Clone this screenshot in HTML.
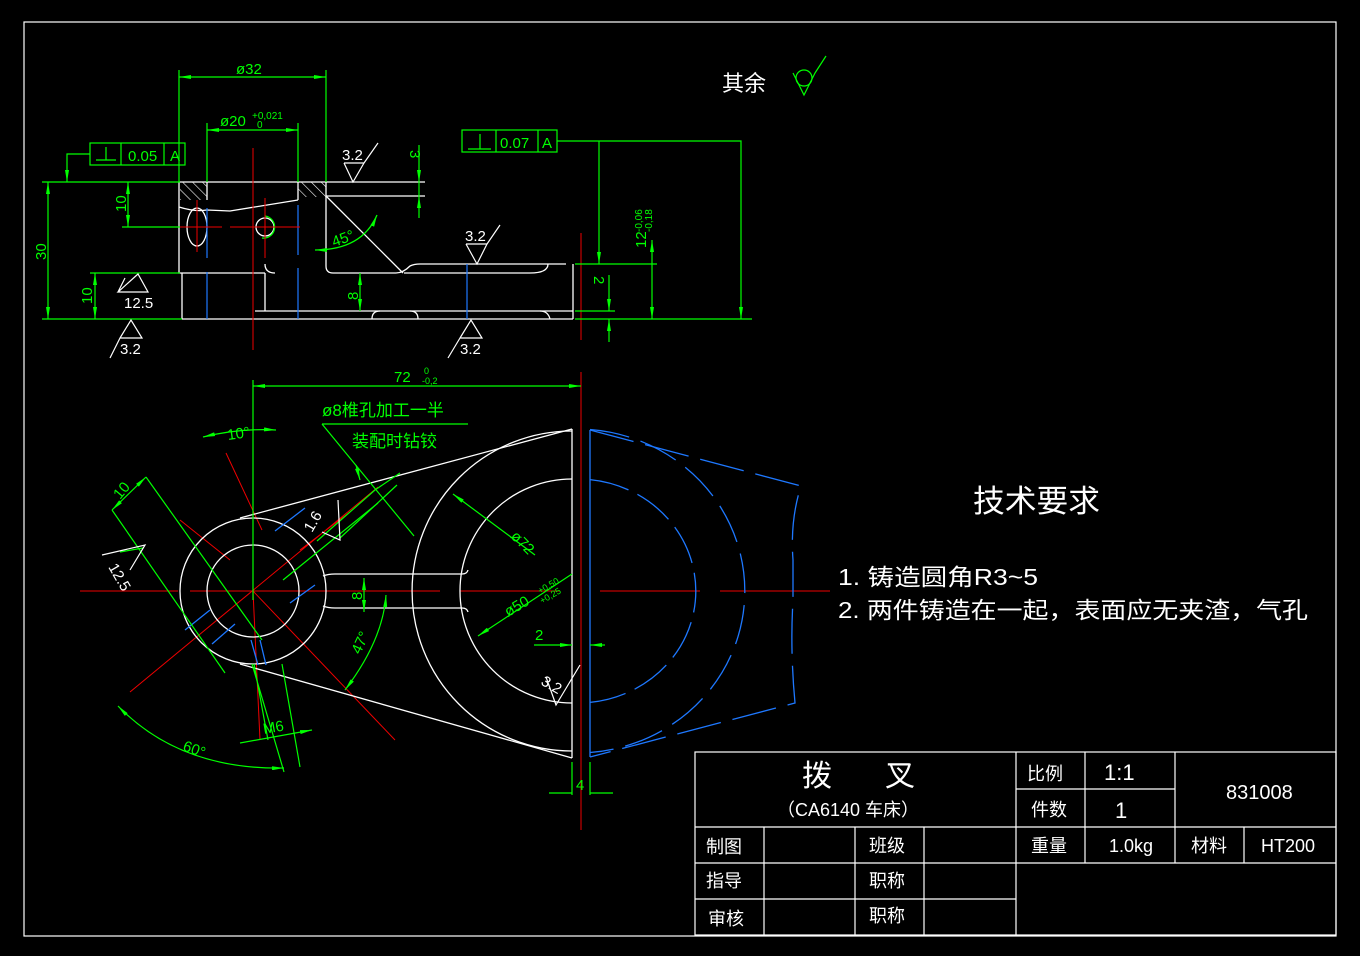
<!DOCTYPE html>
<html><head><meta charset="utf-8"><style>
html,body{margin:0;padding:0;background:#000;}
svg{display:block;}
text{font-family:"Liberation Sans","Noto Sans CJK SC",sans-serif;}
</style></head><body>
<svg width="1360" height="956" viewBox="0 0 1360 956" xmlns="http://www.w3.org/2000/svg">
<defs>
<marker id="a" viewBox="0 0 12 4" refX="12" refY="2" markerWidth="12" markerHeight="4" orient="auto-start-reverse" markerUnits="userSpaceOnUse"><path d="M0,0L12,2L0,4z" fill="#0f0"/></marker>
<pattern id="h" width="7" height="7" patternUnits="userSpaceOnUse" patternTransform="rotate(-45)"><line x1="0" y1="0" x2="0" y2="7" stroke="#fff" stroke-width="1.2"/></pattern>
</defs>
<rect width="1360" height="956" fill="#000"/>
<rect x="24" y="22" width="1312" height="914" fill="none" stroke="#fff" stroke-width="1.2"/>

<!-- ===== TOP VIEW ===== -->
<g stroke="#fff" stroke-width="1.3" fill="none">
<rect x="180" y="182" width="27" height="18" fill="url(#h)" stroke="none"/>
<rect x="298" y="182" width="28" height="15" fill="url(#h)" stroke="none"/>
<path d="M179,182H425M326,196H425M179,182V273H265M179,207Q195,212 207,210L230,211L298,200"/>
<path d="M207,182V200M298,182V200M326,182V266Q326,273 333,273H396Q403,273 410,266Q414,264 420,264H566M265,264Q265,273 275,273"/>
<path d="M326,196L403,273M573,264V319M182,273V319M265,273V311M255,311H573M182,319H573"/>
<path d="M372,319Q372,311 380,311M410,311Q418,311 418,319M540,311Q548,311 550,319M548,264Q548,273 530,273H420M420,273Q410,273 404,273"/>
<ellipse cx="197" cy="227" rx="10" ry="19"/>
<circle cx="265" cy="227" r="9"/>
</g>
<path d="M262,238A11,11 0 1,0 265,216" stroke="#0f0" fill="none" stroke-width="1.3"/>
<g stroke="#1e78ff" stroke-width="1.2">
<path d="M207,208V258M207,272V319M298,205V255M298,268V319M467,264V319"/>
</g>
<g stroke="#e00" stroke-width="1">
<path d="M253,148V350M170,227H222M230,227H300M240,227H290M197,200V252M265,198V258M581,233V340"/>
</g>
<!-- top view dims -->
<g stroke="#0f0" stroke-width="1.2" fill="none">
<path d="M179,70V182M326,70V182M207,123V182M298,123V182"/>
<path d="M179,77H326" marker-start="url(#a)" marker-end="url(#a)"/>
<path d="M207,130H298" marker-start="url(#a)" marker-end="url(#a)"/>
<rect x="90" y="143" width="95" height="22"/><path d="M121,143V165M164,143V165M96,160H116M106,147V160"/>
<path d="M90,154H67V182" marker-end="url(#a)"/>
<path d="M42,182H180M42,319H182M122,227H180M90,273H180"/>
<path d="M48,182V319" marker-start="url(#a)" marker-end="url(#a)"/>
<path d="M128,182V227" marker-start="url(#a)" marker-end="url(#a)"/>
<path d="M95,273V319" marker-start="url(#a)" marker-end="url(#a)"/>
<path d="M360,273V311" marker-start="url(#a)" marker-end="url(#a)"/>
<path d="M419,145V182" marker-end="url(#a)"/><path d="M419,218V196" marker-end="url(#a)"/><path d="M419,182V196"/>
<rect x="462" y="130" width="95" height="22"/><path d="M496,130V152M538,130V152M468,149H491M480,134V149"/>
<path d="M557,141H741V319" marker-end="url(#a)"/>
<path d="M599,141V264" marker-end="url(#a)"/>
<path d="M575,264H657M575,319H752M575,311H615"/>
<path d="M652,240V319" marker-start="url(#a)" marker-end="url(#a)"/>
<path d="M609,275V311" marker-end="url(#a)"/><path d="M609,342V319" marker-end="url(#a)"/>
</g>
<path d="M315,250Q362,250 377,215" stroke="#0f0" fill="none" stroke-width="1.3" marker-start="url(#a)" marker-end="url(#a)"/>
<g fill="#0f0" font-size="15">
<text x="236" y="74">ø32</text>
<text x="220" y="126">ø20</text><text x="252" y="119" font-size="10">+0,021</text><text x="257" y="128" font-size="10">0</text>
<text x="128" y="161">0.05</text><text x="170" y="161">A</text>
<text x="500" y="148">0.07</text><text x="542" y="148">A</text>
<text x="334" y="247" transform="rotate(-20 334 247)">45°</text>
<text transform="translate(46,260) rotate(-90)">30</text>
<text transform="translate(126,212) rotate(-90)">10</text>
<text transform="translate(92,304) rotate(-90)">10</text>
<text transform="translate(358,300) rotate(-90)">8</text>
<text transform="translate(410,150) rotate(90)">3</text>
<text transform="translate(594,276) rotate(90)">2</text>
<text transform="translate(646,248) rotate(-90)">12</text>
<text transform="translate(642,232) rotate(-90)" font-size="10">-0,06</text>
<text transform="translate(652,232) rotate(-90)" font-size="10">-0,18</text>
</g>
<!-- roughness symbols -->
<g stroke="#fff" stroke-width="1.2" fill="none">
<path d="M344,163H364L353,182L344,163M364,163L378,143"/>
<path d="M466,244H487L477,264L466,244M487,244L500,225"/>
<path d="M130,292H118L138,274L148,292H130M118,292L125,278"/>
<path d="M120,338H142L131,320L120,338M120,338L110,358"/>
<path d="M460,338H482L471,320L460,338M460,338L448,358"/>
<path d="M793,73L804,95L815,73M815,73L826,56M793,73" stroke="#0f0"/>
<circle cx="804" cy="78" r="8" stroke="#0f0"/>
</g>
<g fill="#fff" font-size="15">
<text x="342" y="160">3.2</text><text x="465" y="241">3.2</text>
<text x="124" y="308">12.5</text><text x="120" y="354">3.2</text><text x="460" y="354">3.2</text>
<text x="722" y="91" font-size="22">其余</text>
</g>

<!-- ===== FRONT VIEW ===== -->
<g stroke="#e00" stroke-width="1">
<path d="M80,591H178M190,591H440M460,591H560M600,591H700M720,591H830"/>
<path d="M581,372V830"/>
<path d="M378,487L130,692M226,453L262,530M253,591L395,740M180,520L230,560M253,591L260,740M350,512L300,550"/>
</g>
<g stroke="#fff" stroke-width="1.3" fill="none">
<circle cx="253" cy="591" r="73"/>
<circle cx="253" cy="591" r="46"/>
<path d="M240,518L572,429M240,664L572,758"/>
<path d="M572,431A160,160 0 0,0 572,751"/>
<path d="M572,479A112,112 0 0,0 572,703"/>
<path d="M572,429V758"/>
<path d="M323,576Q328,574 335,574H462Q467,574 468,570M323,606Q328,608 335,608H462Q467,608 468,612"/>
</g>
<g stroke="#1e78ff" stroke-width="1.3" fill="none">
<path d="M590,430V757"/>
<path d="M590,479.6A118,112 0 0,1 590,702.4" stroke-dasharray="40,10"/>
<path d="M590,429.5A168,162 0 0,1 590,752.5" stroke-dasharray="40,12"/>
<path d="M590,430L801,486Q790,520 793,560V600Q790,650 795,703L590,757" stroke-dasharray="45,12"/>
<path d="M275,531L305,508M185,630L210,610M212,644L235,624M290,603L315,585M251,640L258,665M260,640L266,665"/>
</g>
<!-- front dims -->
<g stroke="#0f0" stroke-width="1.2" fill="none">
<path d="M253,380V600"/>
<path d="M253,386H581" marker-start="url(#a)" marker-end="url(#a)"/>
<path d="M322,424H468M322,424L414,536" />
<path d="M356,465L360,480" marker-end="url(#a)"/>
<path d="M203,437Q240,428 276,430" marker-start="url(#a)" marker-end="url(#a)"/>
<path d="M112,510L225,673M146,477L262,640"/>
<path d="M112,510L146,477" marker-start="url(#a)" marker-end="url(#a)"/>
<path d="M317,541L375,490M340,538L397,485"/>
<path d="M283,580L378,503M400,473L375,490"/>
<path d="M453,494L535,555" marker-start="url(#a)"/>
<path d="M478,636L572,574" marker-start="url(#a)"/>
<path d="M364,578V612" marker-start="url(#a)" marker-end="url(#a)"/>
<path d="M386,595Q383,640 345,690" marker-start="url(#a)" marker-end="url(#a)"/>
<path d="M534,645H572" marker-end="url(#a)"/><path d="M605,645H590" marker-end="url(#a)"/>
<path d="M572,762V795M590,762V795M549,793H572M590,793H613"/>
<path d="M118,706Q180,770 284,768" marker-start="url(#a)" marker-end="url(#a)"/>
<path d="M254,664L268,740M282,664L300,767M252,664L284,772"/>
<path d="M240,743L312,730" marker-end="url(#a)"/>
<path d="M120,552L143,548"/>
</g>
<g stroke="#fff" stroke-width="1.2" fill="none">
<path d="M322,532L340,540L338,500"/>
<path d="M546,677L556,705L580,665"/>
<path d="M102,555L145,545L130,570"/>
</g>
<g fill="#0f0" font-size="15">
<text x="394" y="382">72</text><text x="424" y="374" font-size="9">0</text><text x="422" y="384" font-size="9">-0,2</text>
<text x="322" y="416" font-size="17">ø8椎孔加工一半</text>
<text x="352" y="447" font-size="17">装配时钻铰</text>
<text x="228" y="440" transform="rotate(-8 228 440)">10°</text>
<text x="120" y="500" transform="rotate(-50 120 500)">10</text>
<text x="510" y="537" transform="rotate(45 510 537)">ø72</text>
<text x="508" y="617" transform="rotate(-30 508 617)">ø50</text>
<text x="540" y="594" font-size="9" transform="rotate(-30 540 594)">+0,50</text>
<text x="542" y="604" font-size="9" transform="rotate(-30 542 604)">+0,25</text>
<text transform="translate(362,600) rotate(-90)">8</text>
<text x="360" y="655" transform="rotate(-65 360 655)">47°</text>
<text x="535" y="640">2</text>
<text x="576" y="790">4</text>
<text x="182" y="750" transform="rotate(20 182 750)">60°</text>
<text x="264" y="734" transform="rotate(-10 264 734)">M6</text>
</g>
<g fill="#fff" font-size="15">
<text x="312" y="533" transform="rotate(-60 312 533)">1.6</text>
<text x="540" y="684" transform="rotate(30 540 684)">3.2</text>
<text x="108" y="567" transform="rotate(60 108 567)">12.5</text>
</g>

<!-- technical requirements -->
<g fill="#fff">
<text x="973" y="512" font-size="31" textLength="127" lengthAdjust="spacingAndGlyphs">技术要求</text>
<text x="838" y="585" font-size="23" textLength="200" lengthAdjust="spacingAndGlyphs">1. 铸造圆角R3~5</text>
<text x="838" y="618" font-size="23" textLength="470" lengthAdjust="spacingAndGlyphs">2. 两件铸造在一起，表面应无夹渣，气孔</text>
</g>

<!-- ===== TITLE BLOCK ===== -->
<g stroke="#fff" stroke-width="1.2" fill="none">
<rect x="695" y="752" width="641" height="183"/>
<path d="M695,827H1336M695,863H1336M695,899H1016"/>
<path d="M1016,752V935M1085,752V863M1175,752V863M1244,827V863M1016,789H1175"/>
<path d="M764,827V935M855,827V935M924,827V935"/>
</g>
<g fill="#fff" font-size="18">
<text x="802" y="786" font-size="30">拨</text><text x="885" y="786" font-size="30">叉</text>
<text x="777" y="816">（CA6140 车床）</text>
<text x="1027" y="780">比例</text><text x="1104" y="780" font-size="22">1:1</text>
<text x="1031" y="816">件数</text><text x="1115" y="818" font-size="22">1</text>
<text x="1226" y="799" font-size="20">831008</text>
<text x="706" y="853">制图</text><text x="869" y="852">班级</text>
<text x="1031" y="852">重量</text><text x="1109" y="852">1.0kg</text>
<text x="1191" y="852">材料</text><text x="1261" y="852">HT200</text>
<text x="706" y="887">指导</text><text x="869" y="887">职称</text>
<text x="708" y="925">审核</text><text x="869" y="922">职称</text>
</g>
</svg>
</body></html>
